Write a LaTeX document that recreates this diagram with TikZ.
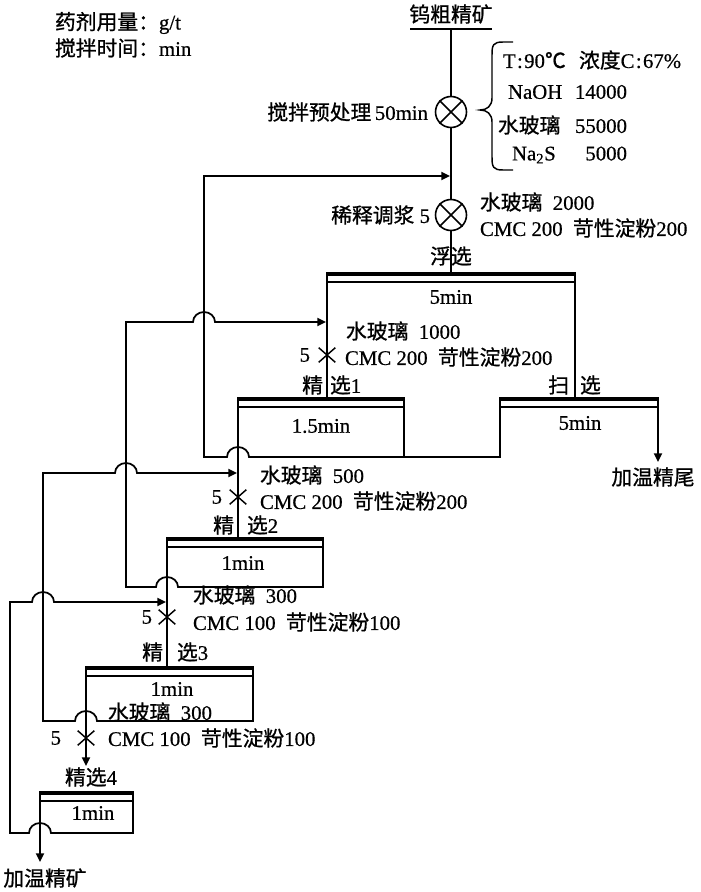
\documentclass[tikz,border=0pt]{standalone}
\usepackage{fontspec}
\setmainfont{Liberation Serif}[FakeBold=0.6]
\newfontfamily\zhfont{Noto Sans CJK SC}[FakeBold=0.9]
\newcommand{\zh}[1]{{\zhfont #1}}
\newcommand{\fs}{\fontsize{15.6}{18}\selectfont}
\usetikzlibrary{arrows.meta}
\setlength{\parindent}{0pt}
\tikzset{
  flow/.style={line width=1.3pt},
  thickbar/.style={line width=3.3pt},
  thinbar/.style={line width=1.1pt},
  lbl/.style={font=\fs, inner sep=0pt, outer sep=0pt},
  mixer/.style={draw, circle, line width=1.2pt, minimum size=23.25pt, inner sep=0pt},
  xnode/.style={minimum width=12.5pt, minimum height=11pt, inner sep=0pt, outer sep=0pt},
  xline/.style={line width=1.1pt},
  arr/.style={-{Triangle[length=6.5pt,width=6pt]}},
  hopL/.style={insert path={arc[start angle=0,end angle=180,x radius=8.25pt,y radius=7.5pt]}},
  hopR/.style={insert path={arc[start angle=180,end angle=0,x radius=8.25pt,y radius=7.5pt]}},
}
% flotation cell: name, x left, x right, y top
\newcommand{\flotcell}[4]{%
  \coordinate (#1-tl) at (#2,#4);
  \coordinate (#1-tr) at (#3,#4);
  \draw[thickbar] (#2-0.8,#4+2.2) -- (#3+0.8,#4+2.2);
  \draw[thinbar] (#2,#4+10) -- (#3,#4+10);
}
\begin{document}
\begin{tikzpicture}[x=0.75pt,y=-0.75pt]
\useasboundingbox (0,0) rectangle (700,892);

% header
\node[lbl,anchor=west] (unit1) at (55,23) {\zh{药剂用量：}g/t};
\node[lbl,anchor=west] (unit2) at (55,48) {\zh{搅拌时间：}min};

% feed
\node[lbl] (feed) at (451,14) {\zh{钨粗精矿}};
\coordinate (ulL) at (410,29);
\coordinate (ulR) at (492,29);
\coordinate (feedpt) at (451,29);
\draw[flow] (ulL) -- (ulR);

% mixers
\node[mixer] (m1) at (451,112) {};
\node[mixer] (m2) at (451,215) {};
\draw[xline] (m1.north west) -- (m1.south east) (m1.north east) -- (m1.south west);
\draw[xline] (m2.north west) -- (m2.south east) (m2.north east) -- (m2.south west);
\node[lbl,anchor=east] (m1l) at (428,112) {\zh{搅拌预处理}\,50min};
\node[lbl,anchor=east] (m2l) at (430,215) {\zh{稀释调浆} 5};

% brace
\draw[line width=1.1pt] (513,42) -- (503,42) .. controls (493,42) and (492,45) .. (492,55)
  -- (492,98) .. controls (492,106) and (487,110) .. (480,110)
  .. controls (487,110) and (492,114) .. (492,122)
  -- (492,157) .. controls (492,167) and (493,170) .. (503,170) -- (513,170);

\node[lbl,anchor=west] (cond) at (503,60) {T\kern1pt:\kern1pt90\zh{℃}\hspace{10pt}\zh{浓度}C\kern1pt:\kern1pt67\%};
\node[lbl,anchor=west,text width=89.25pt] (naoh) at (508,92) {NaOH\hfill 14000};
\node[lbl,anchor=west,text width=96.75pt] (wg1) at (498,125) {\zh{水玻璃}\hfill 55000};
\node[lbl,anchor=west,text width=86.25pt] (nas) at (512,155) {Na\textsubscript{2}S\hfill 5000};

\node[lbl,anchor=west] (r2a) at (480,202) {\zh{水玻璃}\hspace{0.5em}2000};
\node[lbl,anchor=west] (r2b) at (480,228) {CMC 200\hspace{0.5em}\zh{苛性淀粉}200};

% rougher
\node[lbl] (fxl) at (451,256) {\zh{浮选}};
\flotcell{F}{327}{575}{272}
\coordinate (F-in) at (451,272);
\node[lbl] (ft) at (451,297) {5min};

% cleaner / scavenger cells
\flotcell{J1}{238}{404}{397}
\flotcell{S}{500}{658}{397}
\flotcell{J2}{167}{323}{537}
\flotcell{J3}{86}{253}{666}
\flotcell{J4}{40}{133}{791}

\coordinate (J1-in) at (327,397);
\coordinate (S-in) at (575,397);
\coordinate (J2-in) at (238,537);
\coordinate (J3-in) at (167,666);
\coordinate (J4-feed) at (86,766);
\coordinate (conc) at (40,862);
\coordinate (tail) at (658,462);
\coordinate (m2-feed) at (450,176);
\coordinate (J1-feed) at (326,322);
\coordinate (J2-feed) at (237,473);
\coordinate (J3-feed) at (166,602);

% main flow
\draw[flow] (feedpt) -- (m1.north);
\draw[flow] (m1.south) -- (m2.north);
\draw[flow] (m2.south) -- (F-in);
\draw[flow] (F-tl) -- (J1-in);
\draw[flow] (F-tr) -- (S-in);
\draw[flow] (J1-tl) -- (J2-in);
\draw[flow] (J2-tl) -- (J3-in);
\draw[flow,arr] (J3-tl) -- (J4-feed);
\draw[flow,arr] (J4-tl) -- (conc);
\draw[flow,arr] (S-tr) -- (tail);
\draw[flow] (J1-tr) -- (404,457);

% recycles
\draw[flow,arr] (S-tl) -- (500,457) -- (249,457) [hopL] -- (204,457) -- (204,176) -- (m2-feed);
\draw[flow,arr] (J2-tr) -- (323,587) -- (178,587) [hopL] -- (126,587) -- (126,322) -- (193,322) [hopR] -- (J1-feed);
\draw[flow,arr] (J3-tr) -- (253,721) -- (97,721) [hopL] -- (43,721) -- (43,473) -- (115,473) [hopR] -- (J2-feed);
\draw[flow,arr] (J4-tr) -- (133,833) -- (51,833) [hopL] -- (10,833) -- (10,602) -- (32,602) [hopR] -- (J3-feed);

% reagent points
\node[xnode] (x1) at (327,355) {};
\node[xnode] (x2) at (238,497) {};
\node[xnode] (x3) at (167,617) {};
\node[xnode] (x4) at (86,738) {};
\foreach \n in {x1,x2,x3,x4}{
  \draw[xline] (\n.north west) -- (\n.south east) (\n.north east) -- (\n.south west);
}

\node[lbl,anchor=east] (x1n) at (310,355) {5};
\node[lbl,anchor=west] (x1a) at (346,331) {\zh{水玻璃}\hspace{0.5em}1000};
\node[lbl,anchor=west] (x1b) at (345,357) {CMC 200\hspace{0.5em}\zh{苛性淀粉}200};

\node[lbl,anchor=east] (x2n) at (222,497) {5};
\node[lbl,anchor=west] (x2a) at (260,475) {\zh{水玻璃}\hspace{0.5em}500};
\node[lbl,anchor=west] (x2b) at (260,501) {CMC 200\hspace{0.5em}\zh{苛性淀粉}200};

\node[lbl,anchor=east] (x3n) at (152,617) {5};
\node[lbl,anchor=west] (x3a) at (193,595) {\zh{水玻璃}\hspace{0.5em}300};
\node[lbl,anchor=west] (x3b) at (193,622) {CMC 100\hspace{0.5em}\zh{苛性淀粉}100};

\node[lbl,anchor=east] (x4n) at (61,738) {5};
\node[lbl,anchor=west] (x4a) at (108,712) {\zh{水玻璃}\hspace{0.5em}300};
\node[lbl,anchor=west] (x4b) at (108,738) {CMC 100\hspace{0.5em}\zh{苛性淀粉}100};

% cell labels
\node[lbl,anchor=east] (j1a) at (323,385) {\zh{精}};
\node[lbl,anchor=west] (j1b) at (330,385) {\zh{选}1};
\node[lbl] (j1t) at (321,426) {1.5min};

\node[lbl,anchor=east] (sa) at (569,385) {\zh{扫}};
\node[lbl,anchor=west] (sb) at (580,385) {\zh{选}};
\node[lbl] (st) at (580,423) {5min};
\node[lbl] (tailt) at (653,477) {\zh{加温精尾}};

\node[lbl,anchor=east] (j2a) at (234,525) {\zh{精}};
\node[lbl,anchor=west] (j2b) at (247,525) {\zh{选}2};
\node[lbl] (j2t) at (243,563) {1min};

\node[lbl,anchor=east] (j3a) at (163,652) {\zh{精}};
\node[lbl,anchor=west] (j3b) at (177,652) {\zh{选}3};
\node[lbl] (j3t) at (172,689) {1min};

\node[lbl] (j4l) at (91,777) {\zh{精选}4};
\node[lbl] (j4t) at (93,813) {1min};
\node[lbl] (conct) at (45,878) {\zh{加温精矿}};

\end{tikzpicture}
\end{document}
